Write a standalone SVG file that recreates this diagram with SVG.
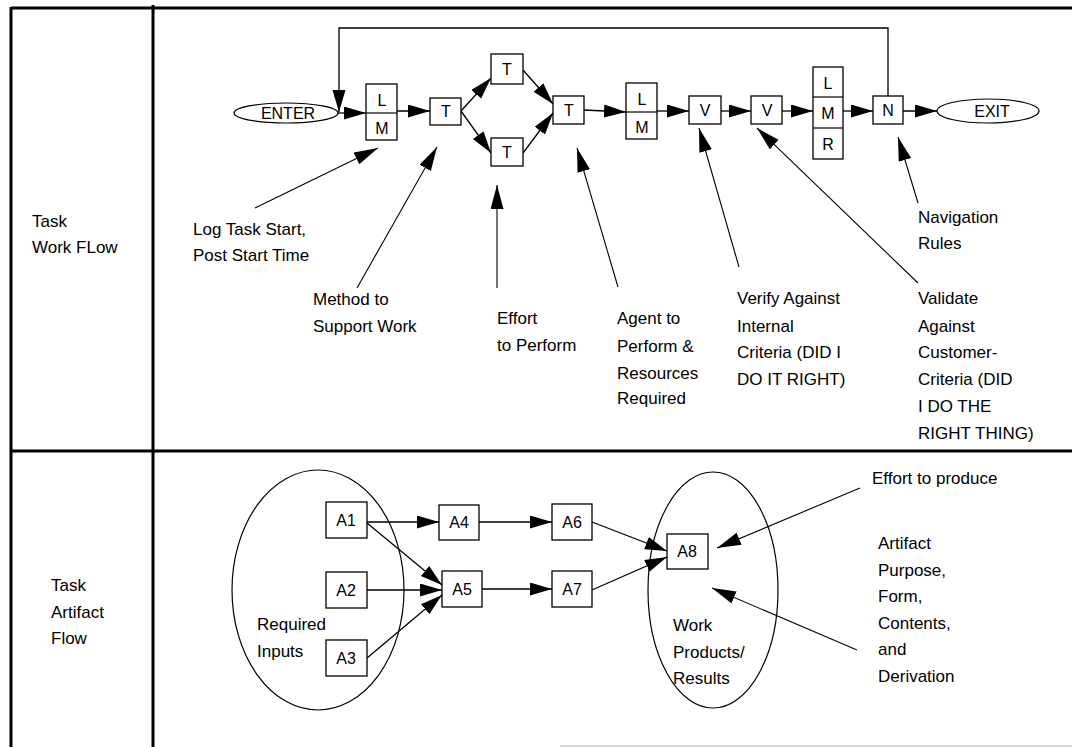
<svg xmlns="http://www.w3.org/2000/svg" width="1072" height="747" viewBox="0 0 1072 747">
<defs>
<style>
text{font-family:"Liberation Sans",Arial,sans-serif;fill:#000}
.lbl{font-size:17px}
.bx{font-size:16px;text-anchor:middle}
.box{fill:#fff;stroke:#000;stroke-width:1.3}
.ell{fill:#fff;stroke:#000;stroke-width:1.2}
.frame{stroke:#000;stroke-width:3;fill:none}
.c{stroke:#000;stroke-width:1.3;fill:none;marker-end:url(#ah)}
.a{stroke:#000;stroke-width:1.1;fill:none;marker-end:url(#ah2)}
.p{stroke:#000;stroke-width:1.2;fill:none}
</style>
<marker id="ah" markerUnits="userSpaceOnUse" markerWidth="24" markerHeight="14" refX="22" refY="6.5" orient="auto">
<path d="M0,0 L22,6.5 L0,13 z" fill="#000"/>
</marker>
<marker id="ah2" markerUnits="userSpaceOnUse" markerWidth="26" markerHeight="14" refX="24" refY="6.5" orient="auto">
<path d="M0,0 L24,6.5 L0,13 z" fill="#000"/>
</marker>
</defs>
<rect width="1072" height="747" fill="#fff"/>
<g id="frame">
<line class="frame" x1="11" y1="8" x2="1072" y2="8"/>
<line class="frame" x1="11" y1="451" x2="1072" y2="451"/>
<line class="frame" x1="11" y1="7" x2="11" y2="747"/>
<line class="frame" x1="153" y1="5" x2="153" y2="747"/>
<line x1="560" y1="746" x2="1072" y2="746" stroke="#aaa" stroke-width="1"/>
</g>
<g id="lane-labels">
<text class="lbl" x="32" y="227">Task</text>
<text class="lbl" x="32" y="253">Work FLow</text>
<text class="lbl" x="51" y="591">Task</text>
<text class="lbl" x="51" y="618">Artifact</text>
<text class="lbl" x="51" y="644">Flow</text>
</g>
<g id="connectors">
<polyline class="c" points="888,96 888,28 339,28 339,112"/>
<line class="c" x1="338" y1="113" x2="366" y2="113"/>
<line class="c" x1="397" y1="111" x2="430" y2="111"/>
<line class="c" x1="461" y1="111" x2="491" y2="78"/>
<line class="c" x1="461" y1="111" x2="491" y2="153"/>
<line class="c" x1="523" y1="70" x2="553" y2="104"/>
<line class="c" x1="523" y1="153" x2="553" y2="113"/>
<line class="c" x1="584" y1="110" x2="626" y2="112"/>
<line class="c" x1="657" y1="111" x2="689" y2="111"/>
<line class="c" x1="721" y1="111" x2="751" y2="111"/>
<line class="c" x1="782" y1="111" x2="813" y2="111"/>
<line class="c" x1="843" y1="111" x2="873" y2="111"/>
<line class="c" x1="903" y1="111" x2="937" y2="111"/>
<line class="a" x1="255" y1="208" x2="378" y2="148"/>
<line class="a" x1="357" y1="288" x2="437" y2="147"/>
<line class="a" x1="497" y1="288" x2="497" y2="185"/>
<line class="a" x1="618" y1="287" x2="577" y2="148"/>
<line class="a" x1="739" y1="267" x2="699" y2="128"/>
<line class="a" x1="918" y1="283" x2="757" y2="128"/>
<line class="a" x1="918" y1="203" x2="898" y2="137"/>
<line class="c" x1="367" y1="522" x2="439" y2="522"/>
<line class="c" x1="367" y1="523" x2="442" y2="585"/>
<line class="c" x1="367" y1="590" x2="442" y2="590"/>
<line class="c" x1="367" y1="658" x2="442" y2="595"/>
<line class="c" x1="479" y1="522" x2="552" y2="522"/>
<line class="c" x1="482" y1="589" x2="552" y2="589"/>
<line class="c" x1="592" y1="522" x2="667" y2="551"/>
<line class="c" x1="592" y1="590" x2="667" y2="557"/>
<line class="a" x1="860" y1="488" x2="717" y2="548"/>
<line class="a" x1="857" y1="650" x2="712" y2="588"/>
</g>
<g id="enter"><ellipse class="ell" cx="286" cy="113" rx="52" ry="10"/><text class="bx" x="288" y="119">ENTER</text></g>
<g id="lm1"><rect class="box" x="366" y="84" width="31" height="56"/><line class="p" x1="366" y1="113" x2="397" y2="113"/><text class="bx" x="382" y="106">L</text><text class="bx" x="382" y="134">M</text></g>
<g id="t1"><rect class="box" x="430" y="98" width="31" height="27"/><text class="bx" x="446" y="117">T</text></g>
<g id="t2"><rect class="box" x="491" y="54" width="32" height="30"/><text class="bx" x="507" y="75">T</text></g>
<g id="t3"><rect class="box" x="491" y="138" width="32" height="28"/><text class="bx" x="507" y="158">T</text></g>
<g id="t4"><rect class="box" x="553" y="96" width="31" height="28"/><text class="bx" x="569" y="116">T</text></g>
<g id="lm2"><rect class="box" x="626" y="83" width="31" height="56"/><line class="p" x1="626" y1="112" x2="657" y2="112"/><text class="bx" x="642" y="105">L</text><text class="bx" x="642" y="133">M</text></g>
<g id="v1"><rect class="box" x="689" y="96" width="32" height="28"/><text class="bx" x="705" y="116">V</text></g>
<g id="v2"><rect class="box" x="751" y="96" width="31" height="28"/><text class="bx" x="767" y="116">V</text></g>
<g id="lmr"><rect class="box" x="813" y="67" width="30" height="92"/><line class="p" x1="813" y1="97" x2="843" y2="97"/><line class="p" x1="813" y1="128" x2="843" y2="128"/><text class="bx" x="828" y="89">L</text><text class="bx" x="828" y="119">M</text><text class="bx" x="828" y="150">R</text></g>
<g id="n"><rect class="box" x="873" y="96" width="30" height="28"/><text class="bx" x="888" y="116">N</text></g>
<g id="exit"><ellipse class="ell" cx="988" cy="111" rx="51" ry="12"/><text class="bx" x="992" y="117">EXIT</text></g>
<g id="annotations">
<text class="lbl" x="193" y="235">Log Task Start,</text>
<text class="lbl" x="193" y="261">Post Start Time</text>
<text class="lbl" x="313" y="305">Method to</text>
<text class="lbl" x="313" y="332">Support Work</text>
<text class="lbl" x="497" y="324">Effort</text>
<text class="lbl" x="497" y="351">to Perform</text>
<text class="lbl" x="617" y="324">Agent to</text>
<text class="lbl" x="617" y="352">Perform &amp;</text>
<text class="lbl" x="617" y="379">Resources</text>
<text class="lbl" x="617" y="404">Required</text>
<text class="lbl" x="737" y="304">Verify Against</text>
<text class="lbl" x="737" y="332">Internal</text>
<text class="lbl" x="737" y="358">Criteria (DID I</text>
<text class="lbl" x="737" y="385">DO IT RIGHT)</text>
<text class="lbl" x="918" y="223">Navigation</text>
<text class="lbl" x="918" y="249">Rules</text>
<text class="lbl" x="918" y="304">Validate</text>
<text class="lbl" x="918" y="332">Against</text>
<text class="lbl" x="918" y="358">Customer-</text>
<text class="lbl" x="918" y="385">Criteria (DID</text>
<text class="lbl" x="918" y="412">I DO THE</text>
<text class="lbl" x="918" y="439">RIGHT THING)</text>
</g>
<g id="inputs"><ellipse class="ell" cx="318" cy="590" rx="86" ry="120" style="fill:none"/><text class="lbl" x="257" y="630">Required</text><text class="lbl" x="257" y="657">Inputs</text></g>
<g id="results"><ellipse class="ell" cx="713" cy="590" rx="65" ry="118" style="fill:none"/><text class="lbl" x="673" y="631">Work</text><text class="lbl" x="673" y="658">Products/</text><text class="lbl" x="673" y="684">Results</text></g>
<g id="a1"><rect class="box" x="326" y="502" width="41" height="36"/><text class="bx" x="346" y="526">A1</text></g>
<g id="a2"><rect class="box" x="326" y="572" width="41" height="36"/><text class="bx" x="346" y="596">A2</text></g>
<g id="a3"><rect class="box" x="326" y="640" width="41" height="36"/><text class="bx" x="346" y="664">A3</text></g>
<g id="a4"><rect class="box" x="439" y="505" width="40" height="35"/><text class="bx" x="459" y="528">A4</text></g>
<g id="a5"><rect class="box" x="442" y="571" width="40" height="36"/><text class="bx" x="462" y="595">A5</text></g>
<g id="a6"><rect class="box" x="552" y="504" width="40" height="36"/><text class="bx" x="572" y="528">A6</text></g>
<g id="a7"><rect class="box" x="552" y="571" width="40" height="36"/><text class="bx" x="572" y="595">A7</text></g>
<g id="a8"><rect class="box" x="667" y="534" width="41" height="35"/><text class="bx" x="687" y="557">A8</text></g>
<g id="artifact-notes">
<text class="lbl" x="872" y="484">Effort to produce</text>
<text class="lbl" x="878" y="549">Artifact</text>
<text class="lbl" x="878" y="576">Purpose,</text>
<text class="lbl" x="878" y="602">Form,</text>
<text class="lbl" x="878" y="629">Contents,</text>
<text class="lbl" x="878" y="655">and</text>
<text class="lbl" x="878" y="682">Derivation</text>
</g>
</svg>
